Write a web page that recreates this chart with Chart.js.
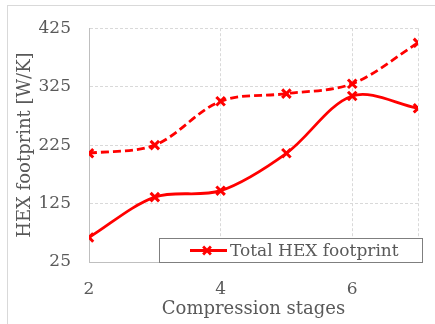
<!DOCTYPE html>
<html>
<head>
<meta charset="utf-8">
<script src="https://cdn.jsdelivr.net/npm/chart.js@4/dist/chart.umd.min.js"></script>
<style>
  html, body { margin: 0; padding: 0; background: #ffffff; }
  #wrap { width: 435px; height: 324px; position: relative; }
</style>
</head>
<body>
<div id="wrap"><canvas id="c" width="435" height="324"></canvas></div>
<script>
// Compression stages on the x axis
const stages = [2, 3, 4, 5, 6, 7];
// Total HEX footprint [W/K] (solid line, shown in legend)
const totalFootprint = [67, 136, 147, 211, 309, 288];
// Upper dashed curve [W/K]
const upperFootprint = [211, 225, 300, 313, 330, 400];
// Axis ticks
const xTickValues = [2, 4, 6];
const yTickValues = [25, 125, 225, 325, 425];

const FONT = "'DejaVu Serif', 'Liberation Serif', serif";
const TEXT = '#595959';
const RED = '#ff0000';

const toPoints = (ys) => stages.map((x, i) => ({ x: x, y: ys[i] }));

// Outer frame and in-plot legend box
const framePlugin = {
  id: 'frame',
  beforeDraw(chart) {
    const ctx = chart.ctx;
    ctx.save();
    ctx.fillStyle = '#ffffff';
    ctx.fillRect(0, 0, chart.width, chart.height);
    ctx.strokeStyle = '#d9d9d9';
    ctx.lineWidth = 1;
    ctx.strokeRect(7.5, 5.5, chart.width + 20, chart.height + 20);
    ctx.restore();
  },
  afterDatasetsDraw(chart) {
    const ctx = chart.ctx;
    const ds = chart.data.datasets[0];
    ctx.save();
    const bx = 159.5, by = 238.5, bw = 263, bh = 24;
    ctx.fillStyle = '#ffffff';
    ctx.fillRect(bx, by, bw, bh);
    ctx.strokeStyle = '#7f7f7f';
    ctx.lineWidth = 1;
    ctx.strokeRect(bx, by, bw, bh);
    const cy = by + bh / 2;
    ctx.strokeStyle = RED;
    ctx.lineWidth = 2.8;
    ctx.beginPath();
    ctx.moveTo(190, cy);
    ctx.lineTo(227, cy);
    ctx.stroke();
    Chart.helpers.drawPoint(ctx, {
      pointStyle: 'crossRot', radius: 5.5, borderWidth: 2.8, rotation: 0
    }, 207, cy);
    ctx.fillStyle = TEXT;
    ctx.font = "17px " + FONT;
    ctx.textBaseline = 'middle';
    ctx.textAlign = 'left';
    ctx.fillText(ds.label, 230, cy + 1);
    ctx.restore();
  }
};

const seriesStyle = {
  borderColor: RED,
  backgroundColor: RED,
  borderWidth: 2.8,
  tension: 0.33,
  pointStyle: 'crossRot',
  pointRadius: 6,
  pointBorderWidth: 3,
  pointBorderColor: RED,
  fill: false
};

new Chart(document.getElementById('c'), {
  type: 'line',
  data: {
    datasets: [
      Object.assign({ label: 'Total HEX footprint', data: toPoints(totalFootprint) }, seriesStyle),
      Object.assign({ label: 'Upper', data: toPoints(upperFootprint), borderDash: [8, 4] }, seriesStyle)
    ]
  },
  options: {
    responsive: false,
    animation: false,
    events: [],
    layout: { padding: { left: 0, right: 10, top: 26, bottom: 0 } },
    plugins: {
      legend: { display: false },
      tooltip: { enabled: false }
    },
    scales: {
      x: {
        type: 'linear',
        min: 2,
        max: 7,
        afterBuildTicks: (s) => { s.ticks = xTickValues.concat([7]).map(v => ({ value: v })); },
        afterFit: (s) => { s.height = 62; },
        grid: {
          color: '#d9d9d9',
          drawTicks: false,
          lineWidth: (c) => (c.tick && c.tick.value === 2 ? 0 : 1)
        },
        border: { display: true, color: '#bfbfbf', width: 1, dash: [3, 2] },
        ticks: {
          color: TEXT,
          font: { family: FONT, size: 17 },
          padding: 17,
          maxRotation: 0,
          autoSkip: false,
          callback: (v) => (xTickValues.includes(v) ? String(v) : '')
        },
        title: {
          display: true,
          text: 'Compression stages',
          color: TEXT,
          font: { family: FONT, size: 18 },
          padding: { top: 0, bottom: 4 }
        }
      },
      y: {
        min: 25,
        max: 425,
        afterBuildTicks: (s) => { s.ticks = yTickValues.map(v => ({ value: v })); },
        afterFit: (s) => { s.width = 89; },
        grid: {
          color: '#d9d9d9',
          drawTicks: false,
          lineWidth: (c) => (c.tick && c.tick.value === 25 ? 0 : 1)
        },
        border: { display: true, color: '#bfbfbf', width: 1, dash: [3, 2] },
        ticks: {
          color: TEXT,
          font: { family: FONT, size: 17 },
          padding: 18
        },
        title: {
          display: true,
          text: 'HEX footprint [W/K]',
          color: TEXT,
          font: { family: FONT, size: 18 },
          padding: { top: 15, bottom: 0 }
        }
      }
    }
  },
  plugins: [framePlugin]
});
</script>
</body>
</html>
